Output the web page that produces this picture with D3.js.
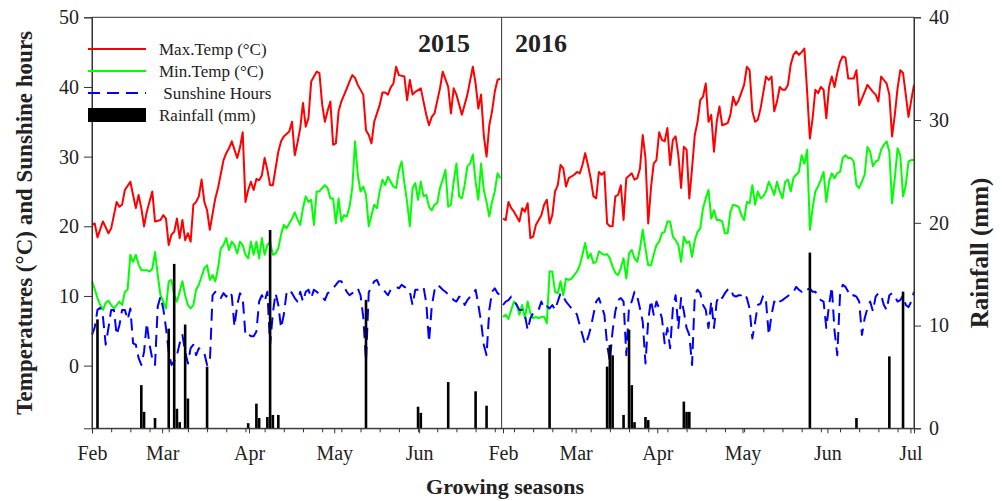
<!DOCTYPE html>
<html>
<head>
<meta charset="utf-8">
<script src="https://cdn.jsdelivr.net/npm/d3@7"></script>
<style>
  body { margin: 0; background: #fff; }
  text { font-family: "Liberation Serif", "Times New Roman", serif; fill: #222; }
</style>
</head>
<body>
<svg id="chart" width="1002" height="501"></svg>
<script>
// day index: 0 = 1 Feb 2015 ... 149 = 30 Jun 2015, 150 = 1 Feb 2016 ... 300 = 30 Jun 2016
var maxTemp2015 = [[0,20.2],[1,20.4],[2,18.4],[4,20.7],[6,19.0],[7,19.7],[9,23.5],[10,22.8],[11,23.1],[12,25.2],[14,26.4],[15,24.5],[16,22.6],[17,24.5],[18,22.6],[19,20.0],[20,22.1],[22,25.0],[23,20.7],[25,20.9],[26,21.6],[27,21.1],[28,17.3],[29,18.8],[30,19.2],[31,21.1],[32,18.3],[33,20.9],[34,18.0],[35,19.0],[36,17.8],[37,23.1],[38,23.5],[39,24.3],[40,26.7],[41,23.5],[42,22.3],[43,19.5],[45,24.0],[46,25.5],[47,27.5],[48,29.5],[49,30.5],[50,31.2],[51,32.2],[52,31.0],[53,29.8],[54,31.3],[55,33.5],[56,23.5],[57,25.2],[58,26.4],[59,25.2],[60,26.8],[61,26.6],[62,27.3],[63,29.8],[64,28.1],[65,25.9],[66,25.9],[68,30.7],[69,32.2],[70,32.9],[72,33.6],[73,35.0],[74,30.2],[75,32.0],[76,34.1],[77,37.7],[78,34.3],[79,35.5],[80,40.8],[81,41.5],[82,42.2],[83,42.0],[84,37.5],[85,35.0],[86,36.6],[87,37.9],[88,31.7],[89,31.9],[90,36.5],[91,37.9],[93,39.8],[94,40.8],[95,41.7],[96,41.3],[97,40.3],[99,38.9],[100,33.8],[101,33.1],[102,31.9],[103,35.0],[104,36.2],[105,37.4],[106,39.2],[107,39.2],[108,38.9],[109,39.9],[110,40.5],[111,42.9],[112,41.7],[114,41.5],[115,38.1],[116,41.0],[117,38.9],[118,39.3],[120,39.8],[121,37.9],[122,36.0],[123,34.5],[124,35.7],[125,36.2],[127,39.8],[128,42.2],[130,40.0],[131,36.2],[132,39.8],[133,38.9],[135,36.0],[137,38.9],[139,42.9],[140,40.5],[141,36.9],[142,38.9],[143,33.0],[144,30.0],[145,34.5],[146,36.5],[147,39.3],[148,41.0],[149,41.2]];
var minTemp2015 = [[0,12.1],[1,11.0],[2,9.7],[3,8.7],[4,8.0],[5,9.0],[6,9.3],[7,8.7],[8,8.2],[9,8.7],[10,9.2],[11,8.7],[12,10.6],[13,10.9],[14,15.9],[15,14.9],[16,15.9],[17,14.5],[18,13.7],[20,13.7],[21,13.5],[22,13.9],[23,16.3],[24,13.0],[25,10.1],[26,9.2],[27,8.2],[28,12.1],[29,12.3],[30,10.1],[31,9.2],[32,10.6],[33,12.1],[34,10.1],[35,8.7],[36,8.2],[37,8.7],[38,10.9],[39,11.6],[41,14.0],[42,14.4],[43,12.3],[44,13.0],[45,12.1],[46,14.0],[47,16.8],[48,17.3],[49,18.3],[50,16.6],[51,17.8],[52,17.3],[53,16.1],[54,17.8],[55,17.3],[56,15.9],[57,15.4],[58,17.8],[59,15.9],[60,17.8],[61,15.4],[62,18.3],[63,15.9],[64,17.3],[65,17.8],[66,15.9],[67,16.1],[68,16.8],[69,18.8],[70,20.2],[71,19.7],[72,20.4],[73,21.1],[74,22.0],[75,21.0],[76,20.2],[77,22.6],[78,24.3],[79,23.5],[80,23.8],[81,20.2],[82,25.0],[83,25.0],[84,25.5],[85,25.9],[86,25.5],[87,24.0],[88,24.0],[89,20.4],[90,24.0],[91,20.7],[92,21.6],[93,21.4],[94,22.8],[95,25.5],[96,32.2],[97,27.4],[98,25.0],[99,25.7],[100,24.5],[101,20.0],[102,21.6],[103,23.1],[104,22.6],[105,25.0],[106,26.7],[107,25.9],[108,27.1],[109,26.4],[110,25.7],[111,25.5],[112,28.0],[113,29.3],[114,26.2],[115,23.5],[116,20.0],[117,25.5],[118,26.2],[119,23.8],[120,26.4],[121,24.3],[122,24.5],[123,22.8],[124,22.3],[125,23.1],[126,23.3],[127,25.5],[128,26.7],[129,28.1],[130,22.8],[131,23.1],[132,26.4],[133,29.0],[134,24.3],[135,24.0],[136,25.9],[137,28.6],[138,29.0],[139,30.3],[140,26.4],[141,23.8],[142,29.0],[143,25.2],[144,23.5],[145,21.4],[146,23.5],[147,25.0],[148,27.6],[149,26.9]];
var sunshine2015 = [[0,4.4],[1,5.5],[2,8.0],[3,8.3],[4,7.0],[5,3.0],[6,5.4],[7,8.0],[8,8.0],[9,4.4],[10,5.8],[11,8.0],[12,8.0],[13,6.6],[14,8.2],[15,3.2],[16,3.0],[17,1.1],[18,0.1],[19,2.0],[20,6.1],[21,3.0],[22,1.0],[23,0.1],[24,8.5],[25,9.9],[26,8.2],[27,5.4],[28,2.0],[29,0.1],[30,0.6],[31,1.5],[32,3.2],[33,4.4],[34,2.0],[35,0.3],[36,2.5],[37,3.0],[38,1.5],[39,2.5],[40,2.0],[41,1.8],[42,0.1],[43,0.3],[44,10.1],[45,10.6],[46,10.1],[47,9.7],[48,10.4],[49,9.9],[50,10.6],[51,10.1],[52,5.6],[53,8.7],[54,10.4],[55,9.7],[56,4.4],[57,4.6],[58,4.2],[59,4.2],[60,4.9],[61,9.2],[62,10.1],[63,9.2],[64,10.6],[65,3.0],[66,7.5],[67,10.4],[68,8.7],[69,5.4],[70,7.3],[71,10.4],[72,10.9],[73,10.4],[74,9.7],[75,9.2],[76,10.6],[77,9.2],[78,10.6],[79,10.9],[80,9.7],[81,10.9],[82,10.6],[84,9.9],[85,9.4],[86,10.4],[87,10.6],[88,11.1],[89,11.6],[90,12.1],[91,12.1],[92,11.3],[93,10.6],[94,10.1],[95,10.4],[96,10.6],[97,11.1],[98,10.1],[99,7.0],[100,0.6],[101,10.5],[102,11.3],[103,12.1],[104,12.3],[105,11.4],[106,11.1],[107,10.6],[108,10.1],[109,10.9],[110,11.1],[111,11.3],[112,11.1],[113,11.6],[114,11.3],[115,11.1],[116,10.6],[117,8.7],[118,10.9],[119,10.9],[120,11.1],[121,11.3],[122,9.0],[123,3.4],[124,8.5],[125,10.8],[126,11.6],[127,11.3],[128,10.9],[129,10.6],[130,10.2],[131,10.0],[132,9.4],[133,9.2],[134,9.9],[135,9.7],[136,8.7],[137,9.4],[138,9.9],[139,10.1],[140,10.9],[141,8.7],[142,6.3],[143,3.0],[144,1.5],[145,8.0],[146,10.6],[147,11.1],[148,10.4],[149,10.1]];

var maxTemp2016 = [[150,21.1],[151,20.9],[152,23.5],[153,22.6],[154,22.1],[156,20.7],[157,22.6],[158,22.1],[159,23.3],[160,18.3],[161,18.5],[162,20.2],[164,21.6],[165,23.1],[166,23.8],[167,20.4],[168,21.6],[169,25.0],[170,25.9],[171,28.8],[172,28.3],[173,25.7],[174,26.9],[176,27.4],[177,27.8],[178,27.6],[179,28.8],[180,30.5],[181,28.8],[182,26.9],[183,24.3],[184,24.0],[185,27.8],[186,27.4],[187,27.8],[188,20.4],[189,20.0],[190,20.0],[191,24.3],[192,24.5],[193,25.9],[194,20.9],[195,26.9],[197,27.6],[198,26.7],[199,26.9],[200,28.3],[201,33.1],[202,29.8],[203,20.4],[204,25.5],[205,29.0],[206,29.5],[207,33.5],[208,32.4],[209,32.2],[210,34.1],[211,28.8],[212,32.4],[213,32.9],[214,30.2],[215,25.5],[216,31.4],[217,31.0],[218,24.0],[219,28.3],[220,33.1],[221,35.0],[222,38.1],[223,38.6],[224,40.5],[225,35.0],[226,36.0],[227,30.7],[228,35.0],[229,37.2],[230,34.5],[232,34.8],[233,36.0],[234,38.6],[235,37.4],[236,38.1],[238,40.3],[239,42.9],[240,42.4],[241,36.5],[242,35.0],[243,35.3],[244,36.9],[246,41.5],[247,41.0],[248,41.5],[249,36.5],[250,37.9],[251,40.0],[252,39.6],[253,39.6],[254,40.3],[255,43.2],[256,44.6],[257,45.1],[258,44.6],[259,45.0],[260,45.5],[261,39.3],[262,32.6],[263,35.5],[264,39.6],[265,39.1],[266,40.0],[267,39.6],[268,35.5],[269,40.0],[270,41.5],[271,40.0],[272,42.0],[273,43.6],[274,44.4],[275,44.2],[276,41.2],[278,41.2],[279,42.4],[280,37.4],[282,39.3],[283,40.3],[284,39.8],[285,39.3],[286,38.9],[287,37.9],[288,41.5],[289,41.0],[290,40.5],[291,38.9],[292,32.9],[293,36.0],[294,39.8],[295,42.4],[296,42.0],[297,38.9],[298,35.7],[299,38.1],[300,40.3]];
var minTemp2016 = [[150,7.0],[151,7.3],[152,6.7],[153,8.0],[154,9.2],[155,8.7],[156,7.3],[157,8.7],[158,6.8],[159,9.2],[160,7.5],[161,6.8],[162,7.0],[163,6.8],[164,7.0],[165,7.0],[166,6.1],[167,13.5],[168,13.5],[169,10.6],[170,10.4],[171,12.1],[172,10.1],[173,12.5],[174,12.3],[175,12.5],[176,13.0],[177,13.5],[178,14.4],[179,15.9],[180,17.6],[181,15.4],[182,16.1],[183,14.7],[184,14.9],[185,16.4],[186,16.1],[187,15.9],[188,16.0],[189,15.4],[190,14.2],[191,13.3],[192,13.0],[193,14.0],[194,15.4],[195,12.5],[196,16.1],[197,16.6],[198,15.4],[199,14.9],[200,16.8],[201,19.5],[202,16.8],[203,14.4],[204,14.4],[205,15.9],[206,17.3],[207,17.8],[208,19.0],[209,19.2],[210,20.7],[211,20.7],[212,18.5],[213,18.0],[214,17.3],[215,14.9],[216,18.5],[217,17.6],[218,17.8],[219,15.6],[220,18.0],[221,19.2],[222,19.7],[223,22.6],[224,24.0],[225,25.2],[226,21.1],[227,22.3],[228,20.9],[229,20.9],[230,20.7],[231,19.0],[232,19.0],[233,22.1],[234,23.1],[236,22.8],[237,21.6],[238,20.9],[239,23.5],[240,23.3],[241,25.9],[242,23.1],[243,25.0],[244,24.0],[245,24.3],[246,25.0],[247,26.4],[248,25.5],[249,24.5],[250,26.4],[251,25.0],[252,24.0],[253,26.4],[254,26.7],[255,25.0],[256,26.9],[257,27.4],[258,27.8],[259,30.2],[260,29.0],[261,31.0],[262,19.5],[263,22.6],[264,25.0],[265,25.7],[266,26.7],[267,27.8],[268,23.5],[269,26.4],[270,27.6],[271,26.9],[272,27.6],[273,27.8],[274,29.8],[275,30.2],[276,29.8],[277,29.8],[278,29.3],[279,25.9],[280,25.5],[281,26.4],[282,27.4],[283,31.4],[284,30.7],[285,28.6],[286,29.3],[287,29.5],[288,31.0],[289,31.7],[290,32.2],[291,30.7],[292,23.3],[293,26.9],[294,31.2],[295,30.2],[296,24.3],[297,25.9],[298,29.3],[299,29.5],[300,29.5]];
var sunshine2016 = [[150,8.7],[151,9.2],[152,9.4],[153,9.9],[154,9.4],[155,8.7],[156,8.0],[157,8.0],[158,7.3],[159,5.1],[160,6.8],[161,7.5],[162,7.8],[163,8.0],[164,9.2],[165,8.2],[166,8.5],[167,8.2],[168,8.7],[169,8.0],[170,9.2],[171,10.4],[172,9.9],[173,9.2],[174,8.7],[175,8.2],[176,8.0],[177,7.3],[178,5.8],[179,4.4],[180,3.0],[181,4.0],[182,5.4],[183,7.3],[184,9.2],[185,9.7],[186,8.5],[187,7.3],[188,3.0],[189,0.6],[190,5.0],[191,7.8],[192,9.4],[193,9.7],[194,9.2],[195,1.5],[196,8.5],[197,9.2],[198,10.6],[199,9.9],[200,8.2],[201,6.3],[202,0.3],[203,6.5],[204,9.4],[205,7.3],[206,9.2],[207,8.2],[208,6.8],[209,3.2],[210,5.4],[211,2.5],[212,8.2],[213,10.1],[214,5.4],[215,9.7],[216,7.8],[217,5.4],[218,4.4],[219,0.1],[220,10.1],[221,10.9],[222,10.4],[223,8.7],[224,8.0],[225,5.4],[226,9.2],[227,5.4],[228,9.2],[229,10.1],[230,9.7],[231,10.4],[232,10.9],[233,11.1],[234,10.1],[235,9.9],[236,10.1],[237,10.1],[238,10.4],[239,9.7],[240,8.2],[241,3.9],[242,6.2],[243,8.7],[244,8.9],[245,10.1],[246,9.2],[247,4.4],[248,7.3],[249,9.2],[250,8.7],[251,9.2],[252,9.4],[253,9.7],[254,10.0],[255,10.4],[256,10.6],[257,11.3],[258,10.9],[259,10.6],[260,11.1],[261,10.9],[262,11.1],[263,10.6],[264,10.6],[265,9.9],[266,9.4],[267,9.2],[268,5.4],[269,8.7],[270,11.3],[271,5.0],[272,1.5],[273,10.1],[274,11.6],[275,11.3],[276,10.6],[277,9.9],[278,10.1],[279,9.9],[280,9.2],[281,4.4],[282,6.8],[283,8.2],[284,9.2],[285,7.8],[286,9.9],[287,10.4],[288,10.1],[289,8.7],[290,8.0],[291,10.1],[292,10.4],[293,9.9],[294,9.2],[295,9.4],[296,10.1],[297,8.7],[298,8.4],[299,9.2],[300,10.6]];

var rainDays = [2,18,19,23,28,30,31,32,34,35,42,57,60,61,64,65,66,68,100,119,120,130,140,144,167,188,189,190,194,196,197,198,202,203,216,217,218,262,279,291,296];
var rainMm   = [10.6,4.2,1.6,1.0,9.7,16.0,1.9,0.6,10.1,2.9,6.0,0.5,2.4,1.0,1.1,19.3,1.3,1.3,12.5,2.1,1.5,4.5,3.6,2.2,7.8,6.0,8.1,7.1,1.3,9.6,4.2,0.6,1.1,0.8,2.6,1.6,1.6,17.1,1.0,7.0,13.3];

var monthLabels = ["Feb","Mar","Apr","May","Jun","Feb","Mar","Apr","May","Jun","Jul"];
var monthTickDays = [0,25.6,57.3,88.4,119.4,150,176.5,206.3,237.4,268.4,298.7];
var tempTicks = [0,10,20,30,40,50];
var rainTicks = [0,10,20,30,40];
var legendLabels = ["Max.Temp (\u00B0C)","Min.Temp (\u00B0C)"," Sunshine Hours","Rainfall (mm)"];

!(function(){
  "use strict"

  var svg = d3.select("#chart");
  var pL = 92, pR = 914, pT = 17.3, pB = 428.3;

  var x = d3.scaleLinear().domain([0, 300]).range([pL, pR]);
  var yL = d3.scaleLinear().domain([-9, 50]).range([pB, pT]);
  var yR = d3.scaleLinear().domain([0, 40]).range([pB, pT]);

  var line = d3.line().x(function(d){ return x(d[0]); }).y(function(d){ return yL(d[1]); });
  var g = svg.append("g");

  function drawLine(data, color, dash) {
    g.append("path").datum(data)
      .attr("d", line)
      .attr("fill", "none")
      .attr("stroke", color)
      .attr("stroke-width", 2)
      .attr("stroke-linejoin", "round")
      .attr("stroke-dasharray", dash || null);
  }
  drawLine(maxTemp2015, "#ff0000");
  drawLine(maxTemp2016, "#ff0000");
  drawLine(minTemp2015, "#00ff00");
  drawLine(minTemp2016, "#00ff00");
  drawLine(sunshine2015, "#0000ff", "12,7");
  drawLine(sunshine2016, "#0000ff", "12,7");

  // rainfall bars
  var bw = (x(1) - x(0)) * 0.95;
  g.selectAll("rect.rain").data(rainDays).enter().append("rect")
    .attr("class", "rain")
    .attr("x", function(d){ return x(d) - bw / 2; })
    .attr("y", function(d, i){ return yR(rainMm[i]); })
    .attr("width", bw)
    .attr("height", function(d, i){ return pB - yR(rainMm[i]); })
    .attr("fill", "#000");

  // frame and season divider
  svg.append("rect").attr("x", pL).attr("y", pT).attr("width", pR - pL).attr("height", pB - pT)
    .attr("fill", "none").attr("stroke", "#333").attr("stroke-width", 1);
  svg.append("line").attr("x1", x(149.5)).attr("x2", x(149.5)).attr("y1", pT).attr("y2", pB)
    .attr("stroke", "#333").attr("stroke-width", 1);

  // axes
  var axL = svg.append("g").attr("transform", "translate(" + pL + ",0)")
    .call(d3.axisLeft(yL).tickValues(tempTicks).tickSize(8).tickPadding(5));
  var axR = svg.append("g").attr("transform", "translate(" + pR + ",0)")
    .call(d3.axisRight(yR).tickValues(rainTicks).tickSize(7).tickPadding(8));
  var axB = svg.append("g").attr("transform", "translate(0," + pB + ")")
    .call(d3.axisBottom(x).tickValues(monthTickDays).tickFormat(function(d, i){ return monthLabels[i]; }).tickSize(5).tickPadding(13));
  var minor = svg.append("g").attr("transform", "translate(0," + pB + ")")
    .call(d3.axisBottom(x).tickValues(d3.range(0, 301, 7)).tickFormat("").tickSize(4));
  minor.select(".domain").remove();

  [axL, axR, axB, minor].forEach(function(a){
    a.select(".domain").attr("stroke", "#333");
    a.selectAll(".tick line").attr("stroke", "#333");
    a.selectAll(".tick text").attr("font-size", 20).attr("fill", "#222")
      .style("font-family", "'Liberation Serif', serif");
  });

  // axis titles
  svg.append("text").attr("transform", "translate(32," + ((pT + pB) / 2) + ") rotate(-90)")
    .attr("text-anchor", "middle").attr("font-size", 23).attr("font-weight", "bold")
    .text("Temperatures (\u00B0C) and Sunshine hours");
  svg.append("text").attr("transform", "translate(988,253) rotate(-90)")
    .attr("text-anchor", "middle").attr("font-size", 25).attr("font-weight", "bold")
    .text("Rainfall (mm)");
  svg.append("text").attr("x", 505).attr("y", 494).attr("text-anchor", "middle")
    .attr("font-size", 22).attr("font-weight", "bold").text("Growing seasons");

  // year labels
  svg.append("text").attr("x", 444).attr("y", 52).attr("text-anchor", "middle")
    .attr("font-size", 26).attr("font-weight", "bold").text("2015");
  svg.append("text").attr("x", 541).attr("y", 52).attr("text-anchor", "middle")
    .attr("font-size", 26).attr("font-weight", "bold").text("2016");

  // legend
  var legColors = ["#ff0000", "#00ff00", "#0000ff", "#000"];
  var legY = [49, 71, 93, 115];
  legendLabels.forEach(function(t, i){
    if (i < 3) {
      svg.append("line").attr("x1", 88).attr("x2", 146).attr("y1", legY[i]).attr("y2", legY[i])
        .attr("stroke", legColors[i]).attr("stroke-width", 2)
        .attr("stroke-dasharray", i === 2 ? "12,7" : null);
    } else {
      svg.append("rect").attr("x", 88).attr("y", legY[i] - 7).attr("width", 58).attr("height", 14).attr("fill", "#000");
    }
    svg.append("text").attr("x", 159).attr("y", legY[i] + 5.5).attr("font-size", 17)
      .style("white-space", "pre").text(t);
  });
}());
</script>
</body>
</html>
